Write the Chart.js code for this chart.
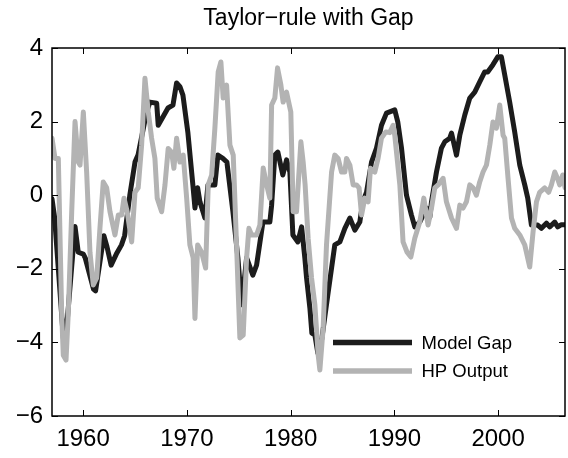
<!DOCTYPE html>
<html>
<head>
<meta charset="utf-8">
<script src="https://cdn.jsdelivr.net/npm/chart.js@4.4.1/dist/chart.umd.min.js"></script>
<style>
  html, body { margin: 0; padding: 0; background: #fff; }
  #wrap { width: 568px; height: 458px; }
</style>
</head>
<body>
<div id="wrap"><canvas id="c" width="568" height="458"></canvas></div>
<script>
const chartTitle = 'Taylor\u2212rule with Gap';
const seriesNames = ['Model Gap', 'HP Output'];
const xTickValues = [1960, 1970, 1980, 1990, 2000];
const yTickValues = [-6, -4, -2, 0, 2, 4];

const gapYears = [
  1957.0, 1957.25, 1958.1, 1958.5, 1959.0, 1959.22, 1959.53,
  1960.02, 1960.2, 1961.0, 1961.2, 1962.0, 1962.3, 1962.7, 1963.2, 1963.7, 1964.0, 1964.5, 1965.0, 1965.3, 1966.12, 1966.44, 1967.09, 1967.24, 1968.18, 1968.66, 1969.01, 1969.33, 1969.62,
  1970.1, 1970.58, 1970.78, 1971.04, 1971.26, 1971.74, 1972.03, 1972.7, 1972.99, 1973.47, 1973.86, 1974.44, 1974.92, 1975.28, 1975.76, 1976.36, 1976.72, 1977.33, 1978.0, 1978.17, 1978.48, 1978.77, 1979.25, 1979.61, 1979.93,
  1980.22, 1980.7, 1981.06, 1981.37, 1981.54, 1981.86, 1982.05, 1982.34, 1982.63, 1983.01, 1983.59, 1984.26, 1984.75, 1985.23, 1985.71, 1986.19, 1986.67, 1986.96, 1987.32, 1987.8, 1988.28, 1988.76, 1989.24,
  1990.04, 1990.33, 1990.69, 1991.17, 1991.65, 1991.97, 1992.45, 1993.1, 1993.42, 1993.58, 1994.06, 1994.54, 1994.86, 1995.34, 1995.51, 1995.99, 1996.31, 1996.79, 1997.27, 1997.75, 1998.23, 1998.71, 1999.0, 1999.49, 1999.97,
  2000.32, 2000.64, 2001.12, 2001.6, 2002.09, 2002.57, 2002.86, 2003.21, 2003.82, 2004.18, 2004.66, 2004.98, 2005.46, 2005.75, 2006.1, 2006.42
];
const gapValues = [
  -0.1, -0.6, -3.9, -3.3, -1.6, -0.85, -1.55,
  -1.6, -1.7, -2.55, -2.6, -1.1, -1.4, -1.9, -1.6, -1.35, -1.1, 0.0, 0.9, 1.1, 2.26, 2.53, 2.5, 1.9, 2.37, 2.45, 3.05, 2.95, 2.72,
  1.7, 0.28, -0.35, 0.2, -0.18, -0.62, 0.28, 0.28, 1.09, 1.0, 0.9, -0.45, -1.7, -2.98, -1.7, -2.17, -1.9, -0.73, -0.73, -0.27, 1.09, 1.17, 0.55, 0.96, 0.63,
  -1.08, -1.27, -0.86, -1.7, -2.25, -3.07, -3.75, -3.8, -4.3, -3.9, -2.7, -1.35, -1.27, -0.9, -0.62, -0.95, -0.73, -0.18, 0.08, 0.9, 1.28, 1.9, 2.23,
  2.32, 1.99, 1.28, 0.0, -0.54, -0.86, -0.73, -0.35, -0.6, -0.18, 0.63, 1.28, 1.45, 1.55, 1.69, 1.09, 1.63, 2.18, 2.64, 2.8, 3.08, 3.35, 3.35, 3.54, 3.76,
  3.76, 3.27, 2.53, 1.72, 0.82, 0.28, -0.08, -0.81, -0.81, -0.9, -0.76, -0.86, -0.73, -0.86, -0.8, -0.8
];

const hpYears = [
  1957.0, 1957.29, 1957.61, 1957.93, 1958.09, 1958.35, 1958.57, 1958.9, 1959.22, 1959.53, 1959.7,
  1960.02, 1960.34, 1960.66, 1960.98, 1961.31, 1961.62, 1961.94, 1962.27, 1962.59, 1963.07, 1963.39, 1963.71, 1963.94, 1964.25, 1964.68, 1965.0, 1965.31, 1965.64, 1965.96, 1966.28, 1966.6, 1966.92, 1967.14, 1967.57, 1967.89, 1968.2, 1968.53, 1968.75, 1969.01, 1969.33, 1969.65, 1969.98,
  1970.29, 1970.61, 1970.78, 1971.04, 1971.42, 1971.81, 1972.06, 1972.39, 1972.7, 1973.02, 1973.28, 1973.5, 1973.83, 1974.15, 1974.47, 1974.79, 1975.11, 1975.43, 1975.76, 1975.98, 1976.24, 1976.72, 1977.04, 1977.36, 1977.69, 1978.0, 1978.17, 1978.48, 1978.74, 1979.06, 1979.28, 1979.61,
  1980.02, 1980.25, 1980.57, 1980.99, 1981.21, 1981.4, 1981.69, 1982.02, 1982.34, 1982.66, 1982.82, 1983.14, 1983.46, 1983.95, 1984.26, 1984.58, 1984.91, 1985.23, 1985.39, 1985.71, 1986.03, 1986.35, 1986.6, 1986.84, 1987.15, 1987.47, 1987.7, 1988.12, 1988.43, 1988.76, 1989.18, 1989.56, 1989.88,
  1990.04, 1990.53, 1990.84, 1991.23, 1991.59, 1991.97, 1992.45, 1992.84, 1993.25, 1993.58, 1993.9, 1994.22, 1994.7, 1995.02, 1995.51, 1995.99, 1996.31, 1996.62, 1996.95, 1997.27, 1997.59, 1997.91, 1998.23, 1998.55, 1998.88, 1999.2, 1999.51, 1999.84,
  2000.16, 2000.48, 2000.64, 2000.96, 2001.29, 2001.6, 2002.09, 2002.57, 2003.05, 2003.37, 2003.7, 2004.01, 2004.49, 2004.88, 2005.14, 2005.46, 2005.72, 2005.94, 2006.23, 2006.46
];
const hpValues = [
  1.55, 1.0, 1.0, -3.17, -4.35, -4.48, -3.2, -0.45, 2.0, 0.9, 0.82,
  2.26, 0.63, -1.55, -2.44, -2.25, -0.9, 0.36, 0.2, -0.45, -1.08, -0.54, -0.54, -0.08, -0.45, -1.27, 0.08, 0.2, 1.36, 3.18, 2.26, 1.55, 1.0, -0.08, -0.45, 0.28, 1.27, 1.17, 0.73, 1.55, 0.9, 1.09, -0.08,
  -1.35, -1.7, -3.35, -1.35, -1.55, -1.98, 0.28, 0.55, 1.82, 3.35, 3.62, 2.64, 2.99, 1.36, 1.09, -1.35, -3.88, -3.8, -1.7, -0.9, -1.08, -1.08, -0.81, 0.74, 0.28, -0.08, 2.45, 2.64, 3.46, 3.0, 2.53, 2.8,
  2.26, -0.45, -0.45, 1.45, 0.9, 0.28, -1.17, -2.25, -2.98, -4.35, -4.75, -3.6, -1.35, 0.63, 1.09, 1.0, 0.63, 0.63, 1.0, 0.82, 0.28, 0.28, 0.2, -0.54, -0.08, -0.18, 0.73, 0.63, 1.0, 1.55, 1.72, 1.7, 1.9,
  1.63, 0.28, -1.27, -1.55, -1.68, -1.17, -0.73, -0.08, -0.81, -0.35, 0.2, 0.28, 0.46, -0.18, -0.62, -0.9, -0.27, -0.35, -0.18, 0.28, 0.2, 0.0, 0.36, 0.63, 0.82, 1.36, 1.99, 1.82,
  2.45, 1.63, 1.55, 0.46, -0.62, -0.9, -1.08, -1.35, -1.95, -1.0, -0.18, 0.08, 0.2, 0.08, 0.28, 0.63, 0.46, 0.28, 0.55, 0.2
];

const FONT = '"Liberation Sans", Arial, Helvetica, sans-serif';
const toPoints = (xs, ys) => xs.map((x, i) => ({ x: x, y: ys[i] }));
const fmtNum = v => (v < 0 ? '\u2212' + Math.abs(v) : String(v));

const matlabFrame = {
  id: 'matlabFrame',
  afterDraw(chart) {
    const ctx = chart.ctx;
    const a = chart.chartArea;
    const xs = chart.scales.x, ys = chart.scales.y;
    ctx.save();
    ctx.strokeStyle = '#000';
    ctx.lineWidth = 1.5;
    ctx.strokeRect(a.left, a.top, a.right - a.left, a.bottom - a.top);
    ctx.lineWidth = 1;
    const tl = 6;
    ctx.beginPath();
    xTickValues.forEach(v => {
      const p = Math.round(xs.getPixelForValue(v)) + 0.5;
      ctx.moveTo(p, a.bottom); ctx.lineTo(p, a.bottom - tl);
      ctx.moveTo(p, a.top); ctx.lineTo(p, a.top + tl);
    });
    yTickValues.forEach(v => {
      const p = Math.round(ys.getPixelForValue(v)) + 0.5;
      ctx.moveTo(a.left, p); ctx.lineTo(a.left + tl, p);
      ctx.moveTo(a.right, p); ctx.lineTo(a.right - tl, p);
    });
    ctx.stroke();

    // title
    ctx.fillStyle = '#000';
    ctx.font = '23px ' + FONT;
    ctx.textAlign = 'center';
    ctx.textBaseline = 'middle';
    ctx.fillText(chartTitle, (a.left + a.right) / 2, 19);

    // legend
    ctx.font = '18.5px ' + FONT;
    ctx.textAlign = 'left';
    const rows = [a.bottom - 73.5, a.bottom - 45];
    chart.data.datasets.forEach((ds, i) => {
      const y = rows[i];
      ctx.strokeStyle = ds.borderColor;
      ctx.lineWidth = 5.5;
      ctx.lineCap = 'butt';
      ctx.beginPath();
      ctx.moveTo(a.right - 232, y);
      ctx.lineTo(a.right - 153, y);
      ctx.stroke();
      ctx.fillStyle = '#000';
      ctx.fillText(ds.label, a.right - 143.5, y + 1);
    });
    ctx.restore();
  }
};

new Chart(document.getElementById('c'), {
  type: 'line',
  data: {
    datasets: [
      {
        label: seriesNames[0],
        data: toPoints(gapYears, gapValues),
        borderColor: '#1c1c1c',
        borderWidth: 5,
        pointRadius: 0,
        tension: 0,
        borderJoinStyle: 'round',
        borderCapStyle: 'round',
        order: 1
      },
      {
        label: seriesNames[1],
        data: toPoints(hpYears, hpValues),
        borderColor: '#b3b3b3',
        borderWidth: 5,
        pointRadius: 0,
        tension: 0,
        borderJoinStyle: 'round',
        borderCapStyle: 'round',
        order: 0
      }
    ]
  },
  options: {
    responsive: false,
    animation: false,
    devicePixelRatio: 1,
    layout: { padding: { top: 48, right: 3, left: 0, bottom: 0 } },
    plugins: {
      legend: { display: false },
      title: { display: false },
      tooltip: { enabled: false }
    },
    scales: {
      x: {
        type: 'linear',
        min: 1957,
        max: 2006.45,
        afterBuildTicks: s => { s.ticks = xTickValues.map(v => ({ value: v })); },
        afterFit: s => { s.height = 42; },
        grid: { display: false, drawTicks: false },
        border: { display: false },
        ticks: {
          color: '#000',
          font: { family: FONT, size: 24 },
          padding: 9,
          maxRotation: 0,
          callback: v => String(v)
        }
      },
      y: {
        type: 'linear',
        min: -6,
        max: 4,
        afterBuildTicks: s => { s.ticks = yTickValues.map(v => ({ value: v })); },
        afterFit: s => { s.width = 52; },
        grid: { display: false, drawTicks: false },
        border: { display: false },
        ticks: {
          color: '#000',
          font: { family: FONT, size: 24 },
          padding: 9,
          callback: v => fmtNum(v)
        }
      }
    }
  },
  plugins: [matlabFrame]
});
</script>
</body>
</html>
